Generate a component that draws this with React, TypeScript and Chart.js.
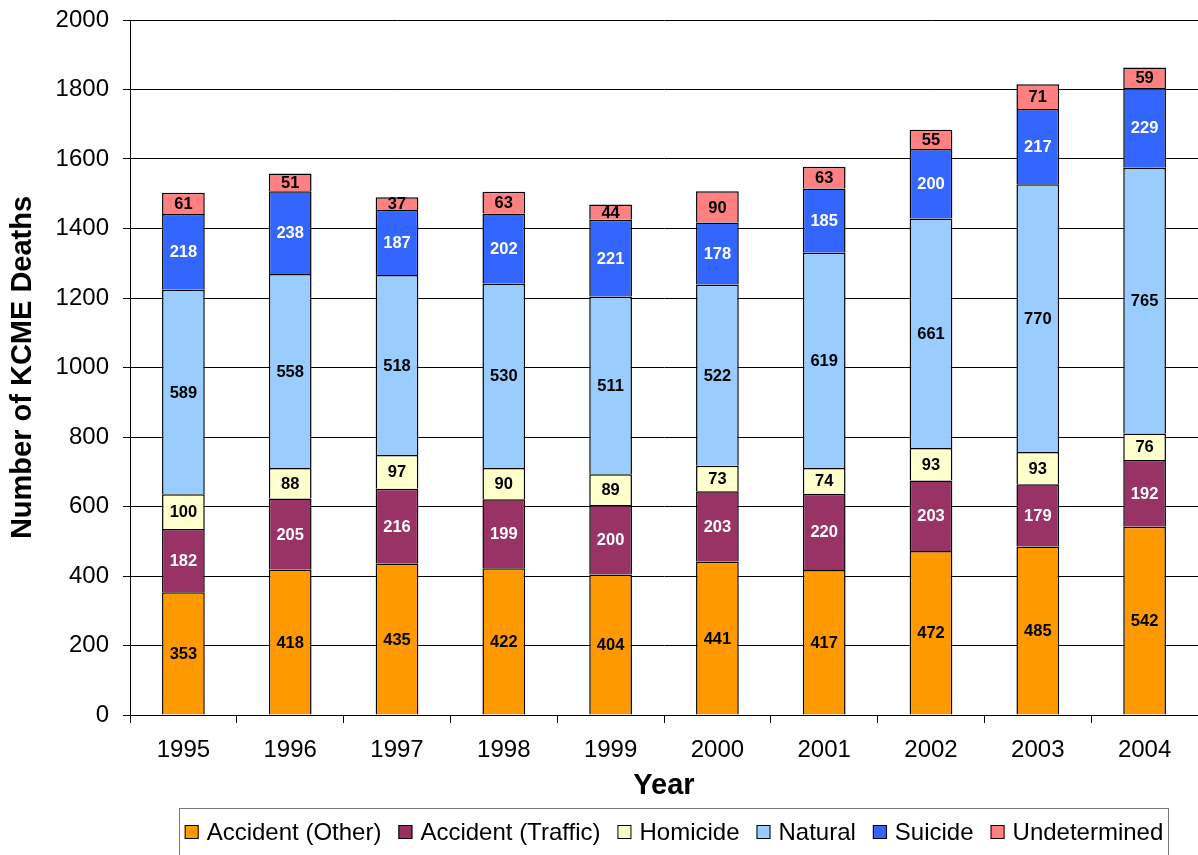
import React, { useEffect, useRef } from "react";
import { Chart, registerables } from "chart.js";

Chart.register(...registerables);

const years = ["1995", "1996", "1997", "1998", "1999", "2000", "2001", "2002", "2003", "2004"];
const accidentOther = [353, 418, 435, 422, 404, 441, 417, 472, 485, 542];
const accidentTraffic = [182, 205, 216, 199, 200, 203, 220, 203, 179, 192];
const homicide = [100, 88, 97, 90, 89, 73, 74, 93, 93, 76];
const natural = [589, 558, 518, 530, 511, 522, 619, 661, 770, 765];
const suicide = [218, 238, 187, 202, 221, 178, 185, 200, 217, 229];
const undetermined = [61, 51, 37, 63, 44, 90, 63, 55, 71, 59];

const seriesNames = ["Accident (Other)", "Accident (Traffic)", "Homicide", "Natural", "Suicide", "Undetermined"];
const seriesValues = [accidentOther, accidentTraffic, homicide, natural, suicide, undetermined];
const seriesColors = ["#FF9900", "#993366", "#FFFFCC", "#99CCFF", "#3366FF", "#FF8080"];
const labelColors = ["#000", "#fff", "#000", "#000", "#fff", "#000"];

const FONT = "'Liberation Sans', Arial, sans-serif";

const valueLabels = {
  id: "valueLabels",
  afterDatasetsDraw(chart: any) {
    const ctx = chart.ctx;
    ctx.save();
    ctx.font = `bold 16.5px ${FONT}`;
    ctx.textAlign = "center";
    ctx.textBaseline = "middle";
    chart.data.datasets.forEach((ds: any, i: number) => {
      const meta = chart.getDatasetMeta(i);
      meta.data.forEach((bar: any, j: number) => {
        const cy = (bar.y + bar.base) / 2;
        ctx.fillStyle = labelColors[i];
        ctx.fillText(String(ds.data[j]), bar.x, cy + 1);
      });
    });
    ctx.restore();
  },
};

const boxLegend = {
  id: "boxLegend",
  afterDraw(chart: any) {
    const ctx = chart.ctx;
    ctx.save();
    ctx.font = `24px ${FONT}`;
    const box = 14;
    const gapText = 8;
    const gapItem = 17;
    const items = chart.data.datasets.map((ds: any) => ({
      label: ds.label,
      color: ds.backgroundColor,
      w: ctx.measureText(ds.label).width,
    }));
    const total = items.reduce((a: number, it: any) => a + box + gapText + it.w, 0) + gapItem * (items.length - 1);
    const cx = 674;
    let x = cx - total / 2;
    const cy = 832;
    const left = 179.5, top = 808.5, right = 1168.5;
    ctx.strokeStyle = "#777";
    ctx.lineWidth = 1;
    ctx.strokeRect(left, top, right - left, 60);
    ctx.textBaseline = "middle";
    ctx.textAlign = "left";
    items.forEach((it: any) => {
      ctx.fillStyle = it.color;
      ctx.fillRect(x, cy - box / 2, box, box);
      ctx.strokeStyle = "#000";
      ctx.strokeRect(x + 0.5, cy - box / 2 + 0.5, box - 1, box - 1);
      ctx.fillStyle = "#000";
      ctx.fillText(it.label, x + box + gapText, cy + 1);
      x += box + gapText + it.w + gapItem;
    });
    ctx.restore();
  },
};

export default function App() {
  const ref = useRef<HTMLCanvasElement>(null);
  useEffect(() => {
    if (!ref.current) return;
    const chart = new Chart(ref.current, {
      type: "bar",
      data: {
        labels: years,
        datasets: seriesNames.map((name, i) => ({
          label: name,
          data: seriesValues[i],
          backgroundColor: seriesColors[i],
          borderColor: "#000",
          borderWidth: 1.5,
          barPercentage: 0.4,
          categoryPercentage: 1,
        })),
      },
      options: {
        animation: false,
        responsive: false,
        maintainAspectRatio: false,
        layout: { padding: { top: 0, left: 0, right: 0, bottom: 0 } },
        plugins: {
          legend: { display: false },
          tooltip: { enabled: false },
        },
        scales: {
          x: {
            stacked: true,
            afterFit: (s: any) => { s.height = 140; },
            grid: { display: true, drawOnChartArea: false, drawTicks: true, tickLength: 8, color: "#000", offset: true },
            border: { color: "#000", width: 1 },
            ticks: { color: "#000", font: { family: FONT, size: 24 }, padding: 13 },
            title: { display: true, text: "Year", color: "#000", font: { family: FONT, size: 29, weight: "bold" }, padding: { top: 0, bottom: 52 } },
          },
          y: {
            stacked: true,
            min: 0,
            max: 2000,
            afterFit: (s: any) => { s.width = 130; s.paddingTop = 20; s.paddingBottom = 0; },
            grid: { color: "#000", lineWidth: 1, tickLength: 7 },
            border: { color: "#000", width: 1 },
            ticks: { stepSize: 200, color: "#000", font: { family: FONT, size: 24 }, padding: 14, callback: (v: any) => String(v) },
            title: { display: true, text: "Number of KCME Deaths", color: "#000", font: { family: FONT, size: 29, weight: "bold" }, padding: { top: 6, bottom: 0 } },
          },
        },
      },
      plugins: [valueLabels, boxLegend],
    });
    return () => chart.destroy();
  }, []);
  return (
    <div style={{ position: "absolute", left: 0, top: 0, width: 1198, height: 855, background: "#fff" }}>
      <canvas ref={ref} width={1198} height={855} style={{ display: "block", width: 1198, height: 855 }} />
    </div>
  );
}
